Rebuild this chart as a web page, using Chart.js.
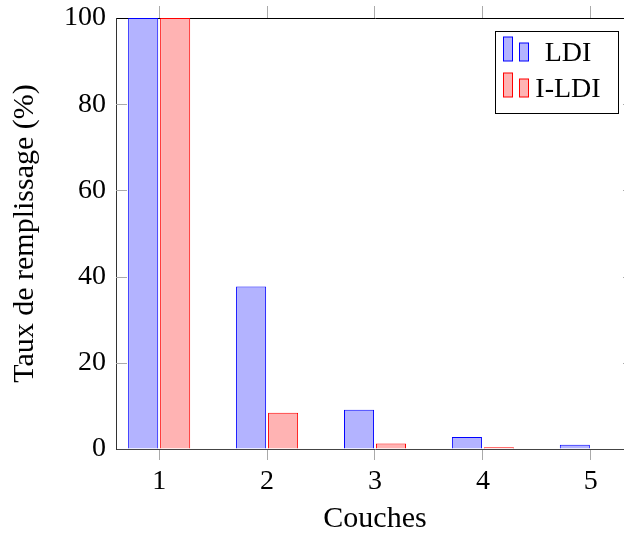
<!DOCTYPE html>
<html>
<head>
<meta charset="utf-8">
<script src="https://cdn.jsdelivr.net/npm/chart.js@4.4.1/dist/chart.umd.min.js"></script>
<style>
  html, body { margin: 0; padding: 0; background: #fff; overflow: hidden; }
  #wrap { width: 700px; height: 535px; }
</style>
</head>
<body>
<div id="wrap"><canvas id="barChart"></canvas></div>
<script>
// couches
let layers = [1, 2, 3, 4, 5]
// taux de remplissage (%)
let ldi = [100, 37.7, 9.1, 2.8, 1.0]
let ildi = [100, 8.4, 1.25, 0.4, 0.1]
let yTicks = [0, 20, 40, 60, 80, 100]

let serif = "'Liberation Serif', 'Times New Roman', serif"

function setLayerTicks(scale) {
    scale.ticks = layers.map(v => ({ value: v }))
}

// petits traits vers l'intérieur sur l'axe y + légende pgfplots
let extras = {
    id: "extras",
    afterDraw(chart) {
        let ctx = chart.ctx
        let area = chart.chartArea
        let y = chart.scales.y
        ctx.save()
        ctx.strokeStyle = "#aaaaaa"
        ctx.lineWidth = 1
        yTicks.slice(1, -1).forEach(v => {
            let py = Math.round(y.getPixelForValue(v)) + 0.5
            ctx.beginPath()
            ctx.moveTo(area.left, py)
            ctx.lineTo(area.left + 11, py)
            ctx.moveTo(area.right - 11, py)
            ctx.lineTo(area.right, py)
            ctx.stroke()
        })
        ctx.strokeStyle = "#222"
        ctx.beginPath()
        ctx.moveTo(area.right + 0.5, area.top)
        ctx.lineTo(area.right + 0.5, area.bottom)
        ctx.stroke()

        // legend
        let bx = 495.5, by = 31.5, bw = 123, bh = 82
        ctx.fillStyle = "#fff"
        ctx.fillRect(bx, by, bw, bh)
        ctx.strokeStyle = "#000"
        ctx.strokeRect(bx, by, bw, bh)
        ctx.font = "28px " + serif
        ctx.textAlign = "center"
        ctx.textBaseline = "alphabetic"
        chart.data.datasets.forEach((ds, i) => {
            let base = 61 + i * 36
            ctx.fillStyle = ds.backgroundColor
            ctx.strokeStyle = ds.borderColor
            ctx.fillRect(503.5, base - 24, 9, 24)
            ctx.strokeRect(503.5, base - 24, 9, 24)
            ctx.fillRect(519.5, base - 18, 9, 18)
            ctx.strokeRect(519.5, base - 18, 9, 18)
            ctx.fillStyle = "#000"
            ctx.fillText(ds.label, 568, base)
        })
        ctx.restore()
    }
}

let myChart = document.getElementById("barChart").getContext("2d")
let chart = new Chart(myChart, {
    type: "bar",
    data: {
        datasets: [{
            label: "LDI",
            data: layers.map((x, i) => ({ x: x, y: ldi[i] })),
            backgroundColor: "rgb(179,179,255)",
            borderColor: "#0000ff",
            borderWidth: 1
        },
        {
            label: "I-LDI",
            data: layers.map((x, i) => ({ x: x, y: ildi[i] })),
            backgroundColor: "rgb(255,179,179)",
            borderColor: "#ff0000",
            borderWidth: 1
        }]
    },
    options: {
        responsive: true,
        maintainAspectRatio: false,
        animation: false,
        categoryPercentage: 64 / 108,
        barPercentage: 0.94,
        layout: { padding: { left: 0, top: 0, right: 66, bottom: 0 } },
        plugins: {
            legend: { display: false },
            tooltip: { enabled: false }
        },
        scales: {
            x: {
                type: "linear",
                position: "bottom",
                offset: false,
                min: 0.6,
                max: 5.4,
                afterBuildTicks: setLayerTicks,
                afterFit(scale) { scale.height = 86 },
                grid: { offset: false, drawOnChartArea: false, drawTicks: true, tickLength: 11, color: "#aaaaaa" },
                border: { color: "#444", width: 1 },
                ticks: { color: "#000", padding: 5, font: { family: serif, size: 28 } },
                title: {
                    display: true,
                    text: "Couches",
                    color: "#000",
                    padding: { top: 0, bottom: -2 },
                    font: { family: serif, size: 30 }
                }
            },
            x2: {
                type: "linear",
                position: "top",
                offset: false,
                min: 0.6,
                max: 5.4,
                afterBuildTicks: setLayerTicks,
                afterFit(scale) { scale.height = 18 },
                grid: { offset: false, drawOnChartArea: false, drawTicks: true, tickLength: 12, color: "#aaaaaa" },
                border: { color: "#000", width: 1 },
                ticks: { display: false }
            },
            y: {
                min: 0,
                max: 100,
                afterBuildTicks(scale) { scale.ticks = yTicks.map(v => ({ value: v })) },
                afterFit(scale) { scale.width = 116 },
                grid: { drawOnChartArea: false, drawTicks: true, tickLength: 10, tickColor: "rgba(0,0,0,0)" },
                border: { color: "#333", width: 1 },
                ticks: { color: "#000", padding: 0, font: { family: serif, size: 28 } },
                title: {
                    display: true,
                    text: "Taux de remplissage (%)",
                    color: "#000",
                    padding: { top: 7, bottom: 0 },
                    font: { family: serif, size: 30 }
                }
            }
        }
    },
    plugins: [extras]
})
</script>
</body>
</html>
